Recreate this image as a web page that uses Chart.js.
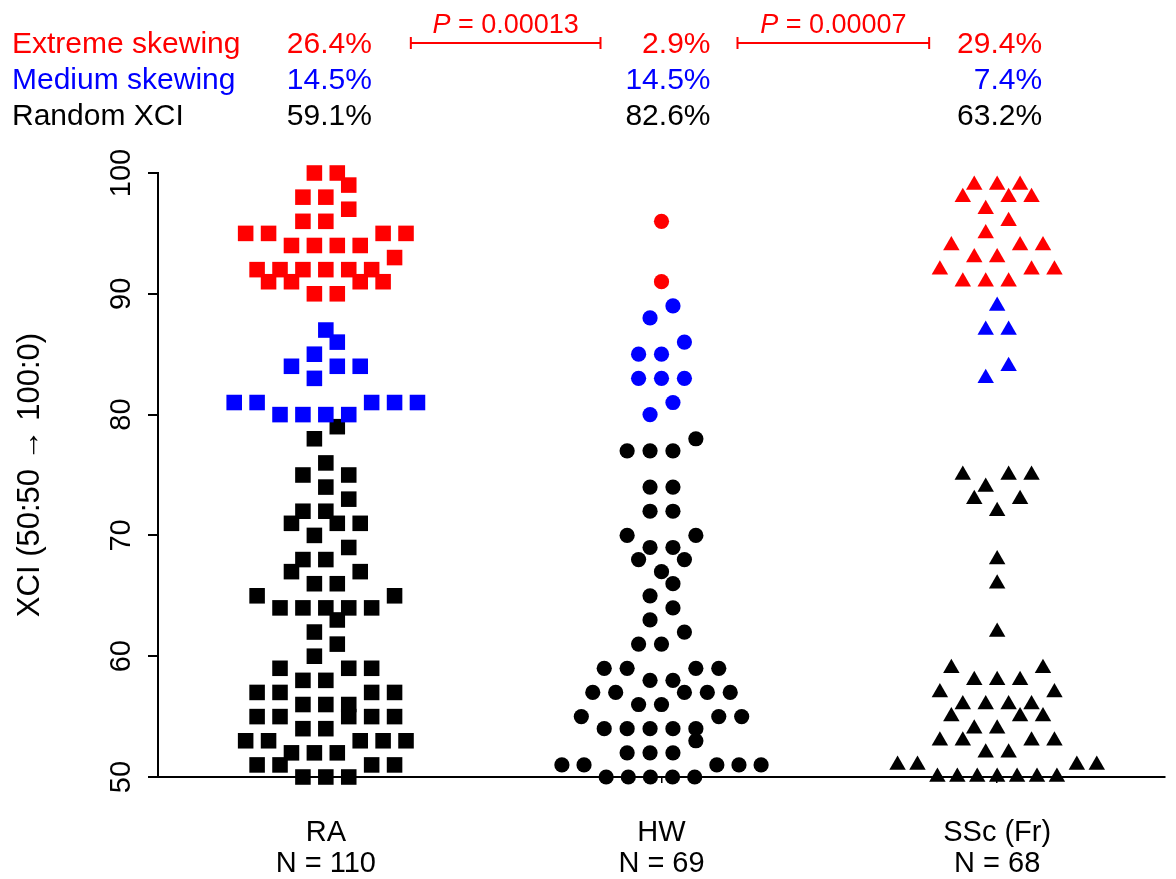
<!DOCTYPE html>
<html>
<head>
<meta charset="utf-8">
<script src="https://cdn.jsdelivr.net/npm/chart.js@4.4.1/dist/chart.umd.min.js"></script>
<style>
  html, body { margin: 0; padding: 0; background: #fff; }
  canvas { display: block; }
</style>
</head>
<body>
<canvas id="grafico" width="1176" height="879"></canvas>
<script>
// Dados (XCI por indivíduo)
const groups = ["RA", "HW", "SSc (Fr)"];

const raValues = [
  100, 100, 99, 98, 98, 97, 96, 96, 95, 95, 95, 95, 94, 94, 94, 94, 93,
  92, 92, 92, 92, 92, 92, 91, 91, 91, 91, 90, 90,
  87, 86, 85, 84, 84, 84, 83, 81, 81, 81, 81, 81, 80, 80, 80, 80,
  79, 78, 76, 75, 75, 74, 73, 72, 72, 71, 71, 71, 70, 69, 68, 68, 67, 67,
  66, 66, 65, 65, 64, 64, 64, 64, 64, 63, 62, 61, 60, 59, 59, 59, 58, 58,
  57, 57, 57, 57, 56, 56, 56, 55, 55, 55, 55, 55, 54, 54, 53, 53, 53, 53, 53,
  52, 52, 52, 51, 51, 51, 51, 50, 50, 50
];

const hwValues = [
  96, 91,
  89, 88, 86, 85, 85, 83, 83, 83, 81, 80,
  78, 77, 77, 77, 74, 74, 72, 72, 70, 70, 69, 69, 68, 68, 67, 66, 65, 64,
  63, 62, 61, 61, 59, 59, 59, 59, 58, 58, 57, 57, 57, 57, 57, 56, 56,
  55, 55, 55, 54, 54, 54, 54, 54, 53, 52, 52, 52, 51, 51, 51, 51, 51,
  50, 50, 50, 50, 50
];

const sscValues = [
  99, 99, 99, 98, 98, 98, 97, 96, 95, 94, 94, 94, 93, 93, 92, 92, 92, 91, 91, 91,
  89, 87, 87, 84, 83,
  75, 75, 75, 74, 73, 73, 72, 68, 66, 62, 59, 59, 58, 58, 58, 57, 57,
  56, 56, 56, 56, 55, 55, 55, 54, 54, 53, 53, 53, 53, 52, 52,
  51, 51, 51, 51, 50, 50, 50, 50, 50, 50, 50
];

const yTicks = [50, 60, 70, 80, 90, 100];
const pValues = ["0.00013", "0.00007"];

const groupValues = [raValues, hwValues, sscValues];

// classes de XCI
const classes = [
  { label: "Extreme skewing", color: "#ff0000", test: v => v >= 90 },
  { label: "Medium skewing", color: "#0000ff", test: v => v >= 80 && v < 90 },
  { label: "Random XCI", color: "#000000", test: v => v < 80 }
];

function corDoValor(v) {
  return classes.find(c => c.test(v)).color;
}

function percentual(vals, test) {
  return (vals.filter(test).length / vals.length * 100).toFixed(1) + "%";
}

// Espalhamento tipo "beeswarm" (estilo Prism): valores próximos numa linha centrada
const SLOT = 23 / 337;      // distância entre pontos (unidades do eixo x)
const MAX_SPAN = 200 / 337; // largura máxima de uma linha
const BIN = 2;

function ordemSlots(n) {
  const out = [];
  if (n % 2) {
    out.push(0);
    for (let j = 1; out.length < n; j++) out.push(-j, j);
  } else {
    for (let j = 0.5; out.length < n; j++) out.push(-j, j);
  }
  return out.slice(0, n);
}

function swarm(vals, centro) {
  const ord = vals.slice().sort((a, b) => a - b);
  const pts = [];
  let i = 0;
  while (i < ord.length) {
    const inicio = ord[i];
    const bin = [];
    while (i < ord.length && ord[i] - inicio < BIN) bin.push(ord[i++]);
    const n = bin.length;
    const passo = n > 1 ? Math.min(SLOT, MAX_SPAN / (n - 1)) : SLOT;
    const slots = ordemSlots(n);
    bin.forEach((v, k) => pts.push({ x: centro + slots[k] * passo, y: v }));
  }
  return pts;
}

const FONTE = '"Liberation Sans", Arial, Helvetica, sans-serif';
Chart.defaults.font.family = FONTE;
Chart.defaults.color = "#000";

const marcadores = ["rect", "circle", "triangle"];
const raios = [11, 7.6, 9.5];

const datasets = groupValues.map((vals, g) => ({
  label: groups[g],
  data: swarm(vals, g + 1),
  pointStyle: marcadores[g],
  pointRadius: raios[g],
  pointHoverRadius: raios[g],
  pointBackgroundColor: c => corDoValor(c.raw.y),
  pointBorderColor: c => corDoValor(c.raw.y),
  pointBorderWidth: 0,
  clip: false
}));

// Cabeçalho: percentuais por classe e colchetes de P
const rowY = [53, 89, 125];
const pctOffset = [46, 49, 45];
const colchetes = [[0, 1, 85, 61], [1, 2, 76, 68]];

const cabecalho = {
  id: "cabecalho",
  afterDraw(chart) {
    const ctx = chart.ctx;
    const sx = chart.scales.x;
    ctx.save();
    ctx.font = "30px " + FONTE;
    ctx.textBaseline = "alphabetic";
    classes.forEach((cls, r) => {
      ctx.fillStyle = cls.color;
      ctx.textAlign = "left";
      ctx.fillText(cls.label, 12, rowY[r]);
      ctx.textAlign = "right";
      groupValues.forEach((vals, g) => {
        ctx.fillText(percentual(vals, cls.test), sx.getPixelForValue(g + 1) + pctOffset[g], rowY[r]);
      });
    });

    ctx.strokeStyle = "#ff0000";
    ctx.fillStyle = "#ff0000";
    ctx.lineWidth = 2;
    const yl = 43;
    colchetes.forEach(([a, b, ia, ib], k) => {
      const x1 = sx.getPixelForValue(a + 1) + ia;
      const x2 = sx.getPixelForValue(b + 1) - ib;
      ctx.beginPath();
      ctx.moveTo(x1, yl); ctx.lineTo(x2, yl);
      ctx.moveTo(x1, yl - 6); ctx.lineTo(x1, yl + 6);
      ctx.moveTo(x2, yl - 6); ctx.lineTo(x2, yl + 6);
      ctx.stroke();

      const fItal = "italic 27px " + FONTE;
      const fNorm = "27px " + FONTE;
      const resto = " = " + pValues[k];
      ctx.font = fItal;
      const wP = ctx.measureText("P").width;
      ctx.font = fNorm;
      const wR = ctx.measureText(resto).width;
      const x0 = (x1 + x2) / 2 - (wP + wR) / 2;
      ctx.textAlign = "left";
      ctx.font = fItal;
      ctx.fillText("P", x0, yl - 10);
      ctx.font = fNorm;
      ctx.fillText(resto, x0 + wP, yl - 10);
    });
    ctx.restore();
  }
};

new Chart(document.getElementById("grafico"), {
  type: "scatter",
  data: { datasets },
  options: {
    responsive: false,
    animation: false,
    layout: { padding: { left: 0, right: 6, top: 173, bottom: 0 } },
    plugins: { legend: { display: false }, tooltip: { enabled: false } },
    scales: {
      x: {
        type: "linear",
        min: 0.5,
        max: 3.5,
        afterBuildTicks: axis => { axis.ticks = groups.map((g, i) => ({ value: i + 1 })); },
        afterFit: axis => { axis.height = 102; },
        ticks: {
          callback: v => [groups[v - 1], "N = " + groupValues[v - 1].length],
          font: { size: 29, lineHeight: 1.05 },
          padding: 35,
          maxRotation: 0,
          autoSkip: false,
          color: "#000"
        },
        grid: { drawOnChartArea: false, drawTicks: true, tickLength: 6, color: "#000", lineWidth: 1.5 },
        border: { display: true, color: "#000", width: 2 }
      },
      y: {
        min: 50,
        max: 100,
        afterBuildTicks: axis => { axis.ticks = yTicks.map(v => ({ value: v })); },
        afterFit: axis => { axis.width = 158; },
        ticks: { minRotation: 90, maxRotation: 90, crossAlign: "center", padding: 2, font: { size: 29 }, color: "#000" },
        grid: { drawOnChartArea: false, tickLength: 10, color: "#000", lineWidth: 2 },
        border: { display: true, color: "#000", width: 2 },
        title: {
          display: true,
          text: "XCI (50:50 → 100:0)",
          font: { size: 31 },
          color: "#000",
          padding: { top: 12, bottom: 0 }
        }
      }
    }
  },
  plugins: [cabecalho]
});
</script>
</body>
</html>
